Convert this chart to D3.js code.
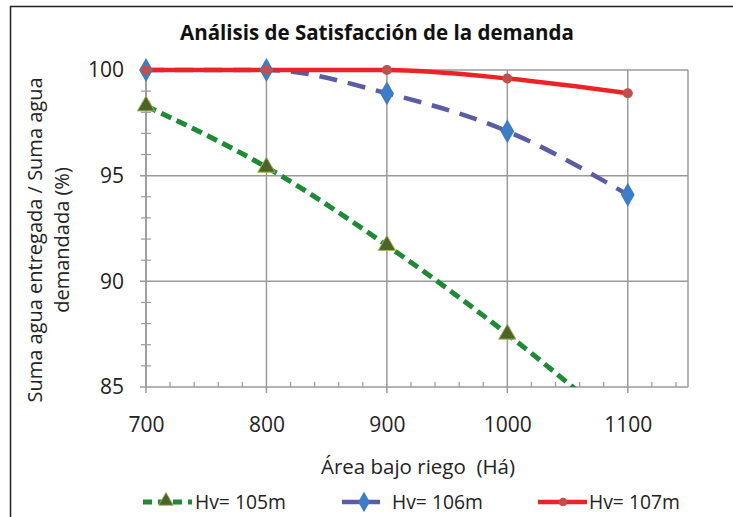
<!DOCTYPE html>
<html><head><meta charset="utf-8">
<script src="https://cdn.jsdelivr.net/npm/d3@7"></script>
<style>
html,body{margin:0;padding:0;background:#fff;}
svg{display:block;font-family:"Open Sans",sans-serif;}
text{white-space:pre;}
</style></head>
<body><svg id="c" width="733" height="517"></svg>
<script>
const areas = [700, 800, 900, 1000, 1100];
const hv105 = [98.3, 95.4, 91.7, 87.5, 82.8];
const hv106 = [100, 100, 98.9, 97.1, 94.1];
const hv107 = [100, 100, 100, 99.6, 98.9];
const xTicks = [700, 800, 900, 1000, 1100];
const yTicks = [85, 90, 95, 100];
const seriesNames = ["Hv= 105m", "Hv= 106m", "Hv= 107m"];
const title = "Análisis de Satisfacción de la demanda";
const xTitle = "Área bajo riego  (Há)";
const yTitle = ["Suma agua entregada / Suma agua", "demandada (%)"];

const svg = d3.select("#c");
const m = {l:146, r:688, t:70, b:387};

// outer frame
svg.append("line").attr("x1",10).attr("x2",733).attr("y1",6.5).attr("y2",6.5).attr("stroke","#222").attr("stroke-width",1.5);
svg.append("line").attr("x1",10.5).attr("x2",10.5).attr("y1",6).attr("y2",517).attr("stroke","#222").attr("stroke-width",1.5);

const x = d3.scaleLinear().domain([700,1150]).range([m.l,m.r]);
const y = d3.scaleLinear().domain([85,100]).range([m.b,m.t]);
const grid = "#9a9a9a";

// gridlines
svg.append("g").selectAll("line").data(xTicks).join("line")
  .attr("x1",d=>x(d)).attr("x2",d=>x(d)).attr("y1",m.t).attr("y2",m.b+6)
  .attr("stroke",grid).attr("stroke-width",1.5);
svg.append("g").selectAll("line").data(yTicks).join("line")
  .attr("x1",m.l-6).attr("x2",m.r).attr("y1",d=>y(d)).attr("y2",d=>y(d))
  .attr("stroke",grid).attr("stroke-width",1.5);
svg.append("line").attr("x1",m.r).attr("x2",m.r).attr("y1",m.t).attr("y2",m.b).attr("stroke",grid).attr("stroke-width",1.5);
svg.append("line").attr("x1",m.l).attr("x2",m.l).attr("y1",m.t).attr("y2",m.b).attr("stroke",grid).attr("stroke-width",1.5);

// minor ticks
svg.append("g").selectAll("line").data(d3.range(86,100,1).filter(v=>v%5!==0)).join("line")
  .attr("x1",m.l-5).attr("x2",m.l+5).attr("y1",d=>y(d)).attr("y2",d=>y(d))
  .attr("stroke",grid).attr("stroke-width",1.2);
svg.append("g").selectAll("line").data(d3.range(720,1150,20).filter(v=>v%100!==0)).join("line")
  .attr("x1",d=>x(d)).attr("x2",d=>x(d)).attr("y1",m.b-5).attr("y2",m.b)
  .attr("stroke",grid).attr("stroke-width",1.2);

// axis labels
const xAxis = d3.axisBottom(x).tickValues(xTicks).tickFormat(d3.format("d")).tickSize(0).tickPadding(0);
const gx = svg.append("g").attr("transform",`translate(0,${m.b+38})`).call(xAxis);
gx.select(".domain").remove();
gx.selectAll("text").attr("font-size",21).attr("fill","#222").attr("font-family","Open Sans").attr("dy","0.35em");
const yAxis = d3.axisLeft(y).tickValues(yTicks).tickFormat(d3.format("d")).tickSize(0).tickPadding(0);
const gy = svg.append("g").attr("transform",`translate(${m.l-22},0)`).call(yAxis);
gy.select(".domain").remove();
gy.selectAll("text").attr("font-size",21).attr("fill","#222").attr("font-family","Open Sans");

svg.append("text").attr("x",418).attr("y",474).attr("text-anchor","middle")
  .attr("font-size",20.5).attr("fill","#222").text(xTitle);
const yt = svg.append("text").attr("transform","translate(35,240) rotate(-90)").attr("text-anchor","middle")
  .attr("font-size",20).attr("fill","#222");
yt.append("tspan").attr("x",0).attr("y",0).attr("dy","0.35em").text(yTitle[0]);
yt.append("tspan").attr("x",0).attr("y",27).attr("dy","0.35em").text(yTitle[1]);

svg.append("text").attr("x",377).attr("y",40).attr("text-anchor","middle")
  .attr("font-size",20.5).attr("font-weight","bold").attr("fill","#111").text(title);

// clip
svg.append("defs").append("clipPath").attr("id","clip").append("rect")
  .attr("x",m.l-12).attr("y",m.t-12).attr("width",m.r-m.l+24).attr("height",m.b-m.t+12);

const line = d3.line().x((d,i)=>x(areas[i])).y(d=>y(d)).curve(d3.curveMonotoneX);
const green="#1e8a36", blue="#5a5ca6", red="#ec2226";
const plot = svg.append("g").attr("clip-path","url(#clip)");
plot.append("path").attr("d",line(hv105)).attr("fill","none").attr("stroke",green).attr("stroke-width",5).attr("stroke-dasharray","11,6");
plot.append("path").attr("d",line(hv106)).attr("fill","none").attr("stroke",blue).attr("stroke-width",4.5).attr("stroke-dasharray","18,11");
plot.append("path").attr("d",line(hv107)).attr("fill","none").attr("stroke",red).attr("stroke-width",4.5);

const tri = d3.symbol().type(d3.symbolTriangle).size(130);
const dia = d3.symbol().type(d3.symbolDiamond).size(165);
const circ = d3.symbol().type(d3.symbolCircle).size(80);
plot.append("g").selectAll("path").data(hv105).join("path")
  .attr("transform",(d,i)=>`translate(${x(areas[i])},${y(d)})`).attr("d",tri)
  .attr("fill","#4f6228").attr("stroke","#9bbb59").attr("stroke-width",1);
plot.append("g").selectAll("path").data(hv106).join("path")
  .attr("transform",(d,i)=>`translate(${x(areas[i])},${y(d)})`).attr("d",dia)
  .attr("fill","#3d7cc9");
plot.append("g").selectAll("path").data(hv107).join("path")
  .attr("transform",(d,i)=>`translate(${x(areas[i])},${y(d)})`).attr("d",circ)
  .attr("fill","#c0504d");

// legend
const ly = 502;
const leg = [
  {x1:143,x2:192,color:green,w:5,dash:"9,6",sym:tri,fill:"#4f6228",stroke:"#9bbb59",cx:166,tx:195},
  {x1:342,x2:380,color:blue,w:4.5,dash:null,sym:dia,fill:"#3d7cc9",stroke:null,cx:364,tx:392},
  {x1:538,x2:587,color:red,w:4.5,dash:null,sym:circ,fill:"#c0504d",stroke:null,cx:563,tx:589}
];
leg.forEach((l,i)=>{
  const g = svg.append("g");
  g.append("line").attr("x1",l.x1).attr("x2",l.x2).attr("y1",ly).attr("y2",ly)
    .attr("stroke",l.color).attr("stroke-width",l.w).attr("stroke-dasharray",l.dash);
  g.append("path").attr("transform",`translate(${l.cx},${ly-(i===0?1:0)}) scale(0.85)`).attr("d",l.sym)
    .attr("fill",l.fill).attr("stroke",l.stroke);
  g.append("text").attr("x",l.tx).attr("y",ly).attr("dy","0.35em").attr("font-size",19.3).attr("fill","#222").text(seriesNames[i]);
});
</script></body></html>
